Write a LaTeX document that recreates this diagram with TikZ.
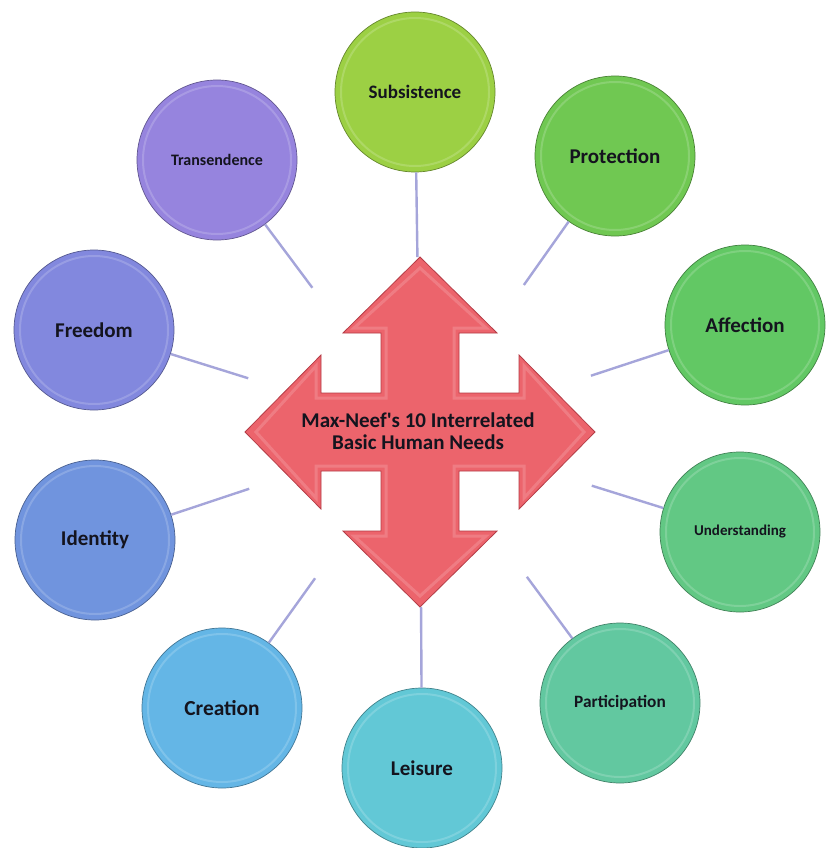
\documentclass[tikz,border=0pt]{standalone}
\usepackage{fontspec}
\setmainfont{Carlito}
\usetikzlibrary{calc}
\definecolor{cSub}{RGB}{156,208,68}
\definecolor{cPro}{RGB}{112,200,82}
\definecolor{cAff}{RGB}{98,200,100}
\definecolor{cUnd}{RGB}{98,200,132}
\definecolor{cPar}{RGB}{98,200,160}
\definecolor{cLei}{RGB}{98,200,214}
\definecolor{cCre}{RGB}{100,182,230}
\definecolor{cIde}{RGB}{112,148,222}
\definecolor{cFre}{RGB}{130,136,222}
\definecolor{cTra}{RGB}{150,132,222}
\definecolor{arrowc}{RGB}{236,100,108}
\definecolor{arrowd}{RGB}{180,60,70}
\definecolor{linkc}{RGB}{165,165,218}
\definecolor{txt}{RGB}{20,20,30}
\begin{document}
\begin{tikzpicture}[x=1pt,y=-1pt,
  need/.style={circle, minimum size=160pt, inner sep=0pt, fill=#1,
    draw=#1!65!black, line width=0.7pt, text=txt,
    path picture={\draw[white, opacity=0.18, line width=2pt]
      (path picture bounding box.center) circle[radius=74pt];}},
  link/.style={draw=linkc, line width=2.4pt},
  lab/.style={font=\bfseries\fontsize{#1}{#1}\selectfont}
]
\useasboundingbox[fill=white] (0,0) rectangle (825,848);

% central arrow
\begin{scope}[shift={(420,432)}]
\draw[fill=arrowc, draw=arrowd, line width=0.8pt, line join=miter]
  (0,-175) -- (77,-99) -- (39,-99) -- (39,-39) -- (99,-39) -- (99,-77) --
  (175,0) -- (99,77) -- (99,39) -- (39,39) -- (39,99) -- (77,99) --
  (0,175) -- (-77,99) -- (-39,99) -- (-39,39) -- (-99,39) -- (-99,77) --
  (-175,0) -- (-99,-77) -- (-99,-39) -- (-39,-39) -- (-39,-99) -- (-77,-99) -- cycle;
\draw[white, opacity=0.16, line width=3pt, line join=miter]
  (0,-164) -- (66,-104) -- (34,-104) -- (34,-34) -- (104,-34) -- (104,-66) --
  (164,0) -- (104,66) -- (104,34) -- (34,34) -- (34,104) -- (66,104) --
  (0,164) -- (-66,104) -- (-34,104) -- (-34,34) -- (-104,34) -- (-104,66) --
  (-164,0) -- (-104,-66) -- (-104,-34) -- (-34,-34) -- (-34,-104) -- (-66,-104) -- cycle;
\end{scope}
\node[align=center, text=txt, font=\bfseries\fontsize{21}{22}\selectfont] (ctr) at (418,431)
  {Max-Neef\textquotesingle s 10 Interrelated\\Basic Human Needs};

% need circles
\node[need=cSub, lab=19] (sub) at (415,92)  {Subsistence};
\node[need=cPro, lab=21] (pro) at (615,156) {Protection};
\node[need=cAff, lab=21] (aff) at (745,325) {Affection};
\node[need=cUnd, lab=15] (und) at (740,532) {Understanding};
\node[need=cPar, lab=17.3] (par) at (620,703) {Participation};
\node[need=cLei, lab=21] (lei) at (422,768) {Leisure};
\node[need=cCre, lab=21.4] (cre) at (222,708) {Creation};
\node[need=cIde, lab=21] (ide) at (95,540)  {Identity};
\node[need=cFre, lab=21] (fre) at (94,330)  {Freedom};
\node[need=cTra, lab=16] (tra) at (217,160) {Transendence};

% connectors
\coordinate (hub) at (420,432);
\foreach \n/\r in {sub/175,pro/180,aff/180,und/180,par/180,lei/175,cre/180,ide/180,fre/180,tra/180}{
  \draw[link] ($(hub)!\r pt!(\n.center)$) -- (\n);
}
\end{tikzpicture}
\end{document}
